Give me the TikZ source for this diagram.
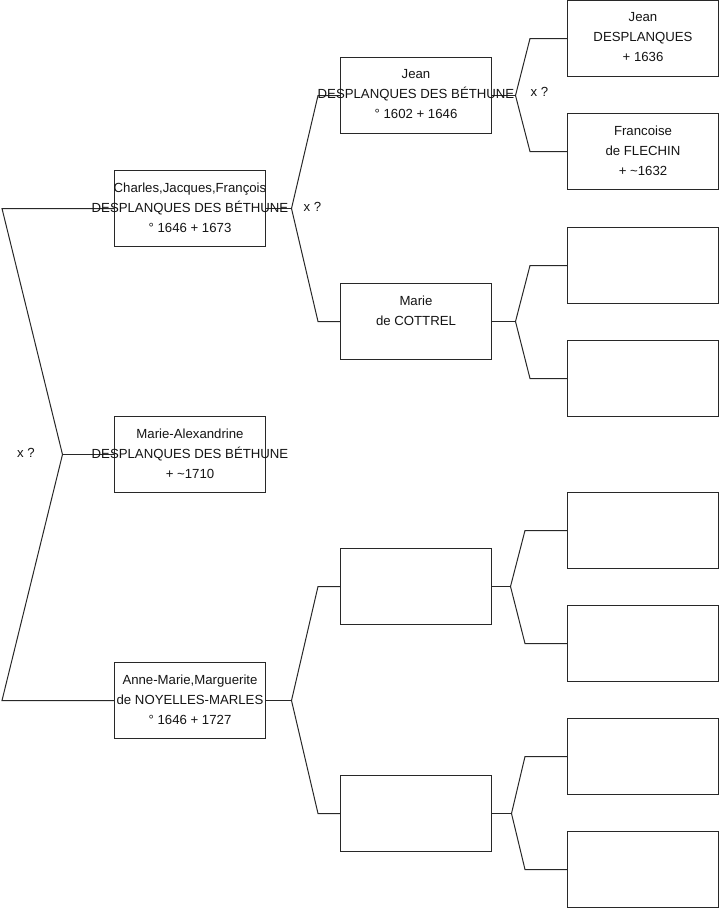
\documentclass[tikz,border=0pt]{standalone}
\usepackage{fontspec}
\setmainfont{Liberation Sans}
\definecolor{linec}{RGB}{40,40,40}
\definecolor{textc}{RGB}{20,20,20}
\begin{document}
\begin{tikzpicture}[x=1pt,y=-1pt,
  person/.style={draw=linec, line width=1pt, minimum width=151pt, minimum height=76pt, inner sep=0pt},
  txt/.style={anchor=north, align=center, inner sep=0pt, font=\fontsize{13.2}{20}\selectfont, text=textc},
  link/.style={draw=linec, line width=1pt},
  marr/.style={font=\fontsize{13.2}{20}\selectfont, text=textc, inner sep=0pt}]
\useasboundingbox (0,0) rectangle (719,908);

% column 1
\node[person] (c) at (190,208.5) {};
\node[person] (ma) at (190,454.5) {};
\node[person] (am) at (190,700.5) {};
% column 2
\node[person] (j) at (416,95.5) {};
\node[person] (mc) at (416,321.5) {};
\node[person] (e1) at (416,586.5) {};
\node[person] (e2) at (416,813.5) {};
% column 3
\node[person] (jd) at (643,38.5) {};
\node[person] (fr) at (643,151.5) {};
\node[person] (g3) at (643,265.5) {};
\node[person] (g4) at (643,378.5) {};
\node[person] (g5) at (643,530.5) {};
\node[person] (g6) at (643,643.5) {};
\node[person] (g7) at (643,756.5) {};
\node[person] (g8) at (643,869.5) {};

% fork vertices
\coordinate (v0) at (62.5,454.5);
\coordinate (v1) at (291.5,208.5);
\coordinate (v2) at (291.5,700.5);
\coordinate (v3) at (515.5,95.5);
\coordinate (v4) at (515.5,321.5);
\coordinate (v5) at (510.5,586.5);
\coordinate (v6) at (511.5,813.5);

% connectors
\draw[link] (c.west) -- ([xshift=-112pt]c.west) -- (v0) -- ([xshift=-112pt]am.west) -- (am.west);
\draw[link] (v0) -- (ma.west);
\draw[link] (c.east) -- (v1);
\draw[link] (j.west) -- ([xshift=-22pt]j.west) -- (v1) -- ([xshift=-22pt]mc.west) -- (mc.west);
\draw[link] (am.east) -- (v2);
\draw[link] (e1.west) -- ([xshift=-22pt]e1.west) -- (v2) -- ([xshift=-22pt]e2.west) -- (e2.west);
\draw[link] (j.east) -- (v3);
\draw[link] (jd.west) -- ([xshift=-37pt]jd.west) -- (v3) -- ([xshift=-37pt]fr.west) -- (fr.west);
\draw[link] (mc.east) -- (v4);
\draw[link] (g3.west) -- ([xshift=-37pt]g3.west) -- (v4) -- ([xshift=-37pt]g4.west) -- (g4.west);
\draw[link] (e1.east) -- (v5);
\draw[link] (g5.west) -- ([xshift=-42pt]g5.west) -- (v5) -- ([xshift=-42pt]g6.west) -- (g6.west);
\draw[link] (e2.east) -- (v6);
\draw[link] (g7.west) -- ([xshift=-42pt]g7.west) -- (v6) -- ([xshift=-42pt]g8.west) -- (g8.west);

% texts
\node[txt] (c-t) at ([yshift=-12.5pt]c.north) {Charles,Jacques,François\\DESPLANQUES DES BÉTHUNE\\° 1646 + 1673};
\node[txt] (ma-t) at ([yshift=-12.5pt]ma.north) {Marie-Alexandrine\\DESPLANQUES DES BÉTHUNE\\+ \textasciitilde1710};
\node[txt] (am-t) at ([yshift=-12.5pt]am.north) {Anne-Marie,Marguerite\\de NOYELLES-MARLES\\° 1646 + 1727};
\node[txt] (j-t) at ([yshift=-12.5pt]j.north) {Jean\\DESPLANQUES DES BÉTHUNE\\° 1602 + 1646};
\node[txt] (mc-t) at ([yshift=-12.5pt]mc.north) {Marie\\de COTTREL};
\node[txt] (jd-t) at ([yshift=-12pt]jd.north) {Jean\\DESPLANQUES\\+ 1636};
\node[txt] (fr-t) at ([yshift=-12.5pt]fr.north) {Francoise\\de FLECHIN\\+ \textasciitilde1632};

% marriage marks
\node[marr] (x0) at (26,453) {x ?};
\node[marr] (x1) at (312.5,207) {x ?};
\node[marr] (x2) at (539.5,92) {x ?};
\end{tikzpicture}
\end{document}
